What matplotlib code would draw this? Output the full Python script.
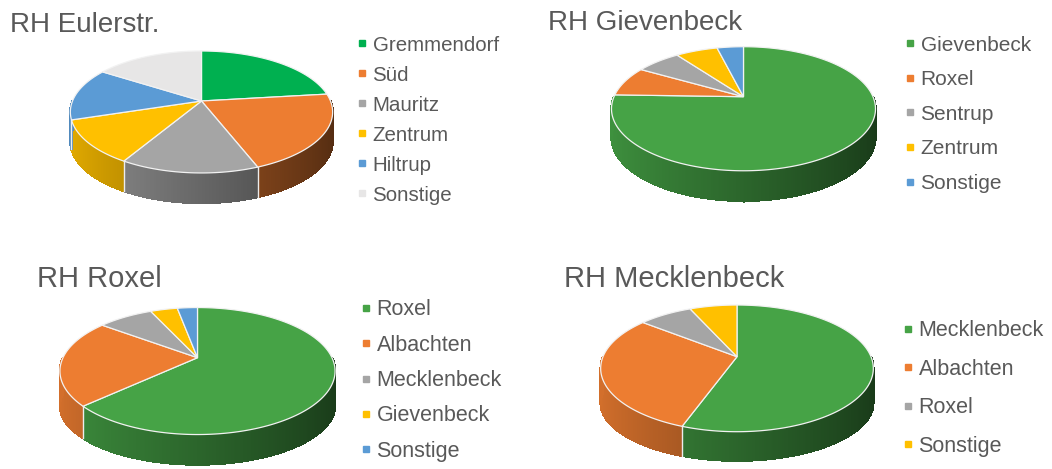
import matplotlib.pyplot as plt
import numpy as np
from matplotlib.patches import Polygon
from matplotlib.collections import PolyCollection
from matplotlib.colors import to_rgb

# ---- data (percent shares) ----
euler_title = 'RH Eulerstr.'
euler_labels = ['Gremmendorf', 'Süd', 'Mauritz', 'Zentrum', 'Hiltrup', 'Sonstige']
euler_values = [23.1, 21.0, 14.4, 11.6, 14.0, 15.9]
euler_colors = ['#00B050', '#ED7D31', '#A5A5A5', '#FFC000', '#5B9BD5', '#E7E6E6']

giev_title = 'RH Gievenbeck'
giev_labels = ['Gievenbeck', 'Roxel', 'Sentrup', 'Zentrum', 'Sonstige']
giev_values = [75.5, 7.8, 6.6, 6.2, 3.9]
giev_colors = ['#46A346', '#ED7D31', '#A5A5A5', '#FFC000', '#5B9BD5']

roxel_title = 'RH Roxel'
roxel_labels = ['Roxel', 'Albachten', 'Mecklenbeck', 'Gievenbeck', 'Sonstige']
roxel_values = [63.0, 22.3, 7.9, 3.9, 2.9]
roxel_colors = ['#46A346', '#ED7D31', '#A5A5A5', '#FFC000', '#5B9BD5']

meck_title = 'RH Mecklenbeck'
meck_labels = ['Mecklenbeck', 'Albachten', 'Roxel', 'Sonstige']
meck_values = [55.5, 30.2, 7.6, 6.7]
meck_colors = ['#46A346', '#ED7D31', '#A5A5A5', '#FFC000']

TXT = '#595959'
plt.rcParams['font.family'] = ['Liberation Sans', 'DejaVu Sans']


def rim(phi, cx, cy, rx, ry, k):
	# phi in degrees, clockwise from 12 o'clock; simple perspective squash
	t = np.radians(phi)
	X, Y = np.sin(t), np.cos(t)
	s = 1.0 / (1.0 + k * Y)
	return cx + rx * X * s, cy - ry * Y * s


def pie3d(ax, values, colors, cx, cy, rx, ry, k, d_side, d_front):
	v = np.asarray(values, float)
	bounds = np.concatenate([[0], np.cumsum(v) / v.sum() * 360])

	def depth(phi):
		c = np.cos(np.radians(phi))
		return d_side + (d_side - d_front) * np.minimum(c, 0)

	# side walls (front half only), shaded darker towards the right
	quads, cols = [], []
	for a1, a2, col in zip(bounds[:-1], bounds[1:], colors):
		lo, hi = max(a1, 90), min(a2, 270)
		if hi <= lo:
			continue
		base = np.array(to_rgb(col))
		ph = np.linspace(lo, hi, max(int((hi - lo) * 2), 2))
		for p0, p1 in zip(ph[:-1], ph[1:]):
			x0, y0 = rim(p0, cx, cy, rx, ry, k)
			x1, y1 = rim(p1, cx, cy, rx, ry, k)
			quads.append([(x0, y0), (x1, y1), (x1, y1 + depth(p1)), (x0, y0 + depth(p0))])
			pm = np.radians((p0 + p1) / 2)
			f = 0.62 - 0.27 * np.sin(pm)
			cols.append(np.clip(base * f, 0, 1))
	pc = PolyCollection(quads, facecolors=cols, edgecolors=cols, linewidths=1.0,
						antialiaseds=False, zorder=1)
	ax.add_collection(pc)
	for b in bounds[1:-1]:
		if 90 < b < 270:
			x0, y0 = rim(b, cx, cy, rx, ry, k)
			ax.plot([x0, x0], [y0, y0 + depth(b)], color='#EDEDED', lw=1.0, zorder=2)

	# top surface
	for a1, a2, col in zip(bounds[:-1], bounds[1:], colors):
		ph = np.linspace(a1, a2, max(int((a2 - a1) * 2), 2))
		xs, ys = rim(ph, cx, cy, rx, ry, k)
		pts = np.column_stack([np.r_[cx, xs], np.r_[cy, ys]])
		ax.add_patch(Polygon(pts, closed=True, facecolor=col, edgecolor='#F2F2F2', lw=0.9, zorder=3))


def legend(ax, labels, colors, mx, y0, dy, fs):
	for i, (lab, col) in enumerate(zip(labels, colors)):
		y = y0 + i * dy
		ax.plot(mx, y, marker='s', markersize=4.3, color=col, ls='none', zorder=4)
		ax.text(mx + 10.5, y + 7.3, lab, fontsize=fs, color=TXT, va='baseline', ha='left')


fig = plt.figure(figsize=(10.52, 4.69), dpi=100)
ax = fig.add_axes([0, 0, 1, 1])
ax.set_xlim(0, 1052)
ax.set_ylim(469, 0)
ax.axis('off')

pie3d(ax, euler_values, euler_colors, 201.5, 101, 129, 59, 0.18, 29, 30)
pie3d(ax, giev_values, giev_colors, 743.5, 96.7, 129.5, 59.7, 0.194, 28, 30)
pie3d(ax, roxel_values, roxel_colors, 197.5, 357.7, 134.5, 60.7, 0.21, 36, 30)
pie3d(ax, meck_values, meck_colors, 737, 356.7, 134, 61.2, 0.184, 36, 29)

ax.text(10, 32, euler_title, fontsize=20, color=TXT, va='baseline')
ax.text(548, 30, giev_title, fontsize=20, color=TXT, va='baseline')
ax.text(37, 287, roxel_title, fontsize=21, color=TXT, va='baseline')
ax.text(564, 287, meck_title, fontsize=21, color=TXT, va='baseline')

legend(ax, euler_labels, euler_colors, 362, 43.3, 30, 14.8)
legend(ax, giev_labels, giev_colors, 910, 43.3, 34.6, 15)
legend(ax, roxel_labels, roxel_colors, 366, 308, 35.3, 15.5)
legend(ax, meck_labels, meck_colors, 908, 329, 38.5, 15.5)

fig.savefig('out.png', dpi=100, facecolor='white')
